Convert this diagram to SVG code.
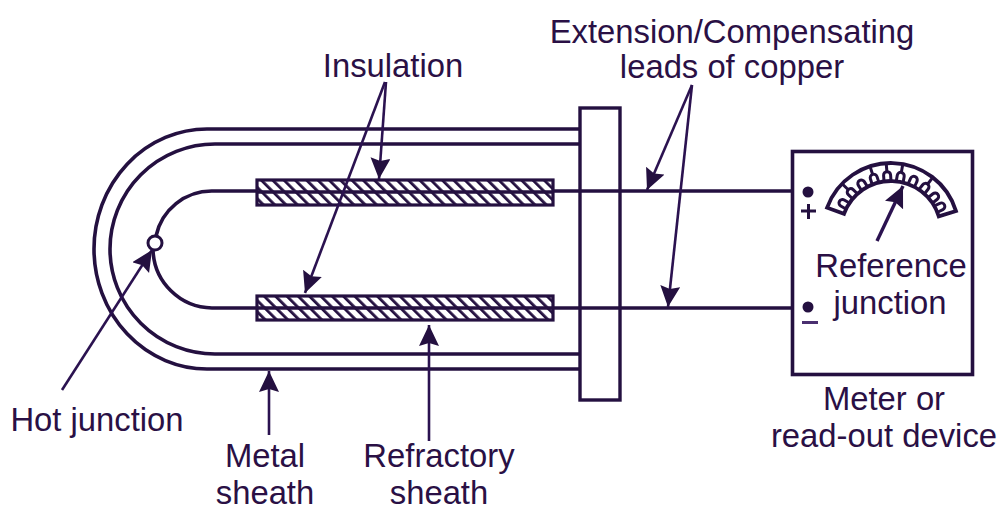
<svg xmlns="http://www.w3.org/2000/svg" width="1007" height="513" viewBox="0 0 1007 513">
<style>
.l{fill:none;stroke:#241040;stroke-width:3.6}
.a{fill:none;stroke:#2b1250;stroke-width:2.6;marker-end:url(#h)}
.t{font-family:"Liberation Sans",Arial,sans-serif;font-size:32.8px;fill:#2a1045;text-anchor:middle}
.i{fill:url(#hatch);stroke:#241040;stroke-width:3.2}
.k{stroke:#241040;stroke-width:3;fill:none}
</style>
<defs>
<marker id="h" markerUnits="userSpaceOnUse" markerWidth="26" markerHeight="22" refX="21" refY="10" orient="auto"><path d="M0 0L21 10L0 20L3 10Z" fill="#241040"/></marker>
<pattern id="hatch" patternUnits="userSpaceOnUse" width="8" height="8" patternTransform="rotate(-45)"><rect width="8" height="8" fill="#fff"/><rect width="2.800" height="8" fill="#241040"/></pattern>
<path id="n" d="M-3.500 -50V-56A3.500 3.500 0 0 1 3.500 -56V-50" class="k"/>
<path id="v" d="M0 -59V-68" class="k"/>
</defs>
<rect width="1007" height="513" fill="#fff"/>
<g id="sheath">
<path class="l" d="M580 129H207A113 120 0 0 0 207 369H580"/>
<path class="l" d="M580 144H215A105 105 0 0 0 215 354H580"/>
</g>
<g id="insulation-top"><rect class="i" x="257" y="180" width="296" height="25"/></g>
<g id="insulation-bottom"><rect class="i" x="257" y="296" width="296" height="24"/></g>
<g id="flange"><rect x="580" y="108" width="40" height="292" fill="#fff" stroke="#241040" stroke-width="3.400"/></g>
<g id="meter">
<rect x="792.500" y="151.500" width="180" height="223" fill="#fff" stroke="#241040" stroke-width="3.600"/>
<circle cx="808" cy="192" r="5.500" fill="#241040"/>
<circle cx="808" cy="307" r="5.500" fill="#241040"/>
<path class="k" d="M801 211H816M808.500 204V219"/>
<path d="M802 322.500H818" stroke="#4a2f70" stroke-width="3"/>
<g id="scale" transform="translate(891 231)">
<path d="M-63.900 -23.300A68 68 0 0 1 65 -19.900L47.800 -14.600A50 50 0 0 0 -47 -17.100Z" fill="#fff" stroke="#241040" stroke-width="3.800"/>
<use href="#n" transform="rotate(-60)"/><use href="#n" transform="rotate(-46)"/><use href="#n" transform="rotate(-32)"/><use href="#n" transform="rotate(-18)"/><use href="#n" transform="rotate(-4)"/><use href="#n" transform="rotate(10)"/><use href="#n" transform="rotate(24)"/><use href="#n" transform="rotate(38)"/><use href="#n" transform="rotate(52)"/><use href="#n" transform="rotate(64)"/>
<use href="#v" transform="rotate(-46)"/><use href="#v" transform="rotate(-18)"/><use href="#v" transform="rotate(10)"/><use href="#v" transform="rotate(38)"/>
<path d="M0 -59V-68" class="k" transform="rotate(-4)"/>
</g>
</g>
<g id="hot-junction"><circle cx="155" cy="243" r="7" fill="#fff" stroke="#241040" stroke-width="3"/></g>
<g id="connectors">
<path class="l" d="M553 191H792"/>
<path class="l" d="M553 308H792"/>
<path class="l" d="M257 191H212A57 57 0 0 0 156 236"/>
<path class="l" d="M257 308H212A60 60 0 0 1 153 250"/>
<path class="l" d="M257 192H553M257 308H553" stroke-width="2.800"/>
<path class="a" d="M386 82L379 179"/>
<path class="a" d="M385 82L305 293"/>
<path class="a" d="M692 85L647 190"/>
<path class="a" d="M692 85L668 307"/>
<path class="a" d="M62 390L152 250"/>
<path class="a" d="M269 435V371"/>
<path class="a" d="M429 441V325"/>
<path class="a" style="stroke-width:3.400" d="M877 241L903 186"/>
</g>
<g id="labels">
<text class="t" x="732" y="42.500">Extension/Compensating</text>
<text class="t" x="732" y="77.500">leads of copper</text>
<text class="t" x="393" y="76.500">Insulation</text>
<text class="t" x="891" y="276.500">Reference</text>
<text class="t" x="890" y="313.500">junction</text>
<text class="t" x="97" y="430.500">Hot junction</text>
<text class="t" x="265" y="466.500">Metal</text>
<text class="t" x="265" y="503.500">sheath</text>
<text class="t" x="439" y="466.500">Refractory</text>
<text class="t" x="439" y="503.500">sheath</text>
<text class="t" x="884" y="409.500">Meter or</text>
<text class="t" x="884" y="446.500">read-out device</text>
</g>
</svg>
